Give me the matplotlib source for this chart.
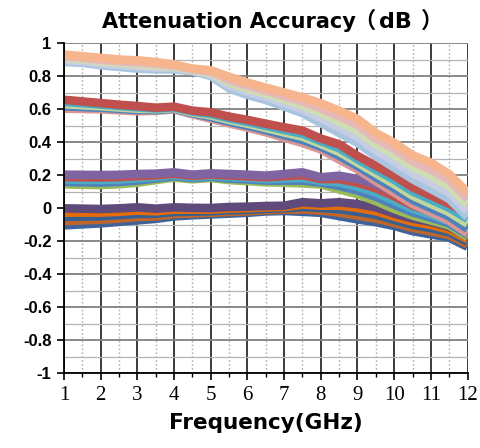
import matplotlib
matplotlib.use("Agg")
import matplotlib.pyplot as plt
from matplotlib.ticker import MultipleLocator

freq = [1.0, 1.5, 2.0, 2.5, 3.0, 3.5, 4.0, 4.5, 5.0, 5.5, 6.0, 6.5,
        7.0, 7.5, 8.0, 8.5, 9.0, 9.5, 10.0, 10.5, 11.0, 11.5, 12.0]

# ~0.9 dB group
top_1 = [0.930, 0.920, 0.910, 0.900, 0.895, 0.885, 0.870, 0.845, 0.835, 0.795, 0.760, 0.730,
         0.700, 0.670, 0.635, 0.590, 0.540, 0.455, 0.395, 0.320, 0.275, 0.205, 0.095]
top_2 = [0.919, 0.910, 0.899, 0.889, 0.883, 0.874, 0.863, 0.841, 0.826, 0.778, 0.741, 0.711,
         0.679, 0.646, 0.605, 0.556, 0.504, 0.420, 0.358, 0.284, 0.235, 0.168, 0.058]
top_3 = [0.908, 0.900, 0.888, 0.878, 0.870, 0.863, 0.855, 0.838, 0.818, 0.760, 0.723, 0.693,
         0.658, 0.623, 0.575, 0.523, 0.468, 0.385, 0.320, 0.248, 0.195, 0.130, 0.020]
top_4 = [0.896, 0.890, 0.876, 0.866, 0.858, 0.851, 0.848, 0.834, 0.809, 0.743, 0.704, 0.674,
         0.636, 0.599, 0.545, 0.489, 0.431, 0.350, 0.283, 0.211, 0.155, 0.093, -0.018]
top_5 = [0.885, 0.880, 0.865, 0.855, 0.845, 0.840, 0.840, 0.830, 0.800, 0.725, 0.685, 0.655,
         0.615, 0.575, 0.515, 0.455, 0.395, 0.315, 0.245, 0.175, 0.115, 0.055, -0.055]

# ~0.63 dB group
mid_1 = [0.656, 0.646, 0.636, 0.626, 0.618, 0.608, 0.614, 0.590, 0.580, 0.554, 0.534, 0.511,
         0.489, 0.469, 0.421, 0.386, 0.316, 0.256, 0.196, 0.126, 0.076, 0.026, -0.034]
mid_2 = [0.643, 0.635, 0.627, 0.618, 0.610, 0.603, 0.610, 0.585, 0.570, 0.544, 0.522, 0.498,
         0.473, 0.450, 0.405, 0.363, 0.296, 0.233, 0.171, 0.101, 0.051, 0.001, -0.065]
mid_3 = [0.629, 0.623, 0.617, 0.609, 0.602, 0.599, 0.606, 0.579, 0.561, 0.534, 0.511, 0.485,
         0.458, 0.432, 0.388, 0.340, 0.275, 0.210, 0.145, 0.075, 0.025, -0.025, -0.095]
mid_4 = [0.616, 0.612, 0.608, 0.601, 0.594, 0.594, 0.602, 0.574, 0.551, 0.523, 0.499, 0.472,
         0.442, 0.413, 0.372, 0.317, 0.255, 0.186, 0.120, 0.050, 0.000, -0.051, -0.126]
mid_5 = [0.602, 0.600, 0.598, 0.592, 0.586, 0.589, 0.598, 0.568, 0.541, 0.513, 0.487, 0.459,
         0.426, 0.394, 0.355, 0.294, 0.234, 0.163, 0.094, 0.024, -0.026, -0.076, -0.156]

# ~0.17 dB group
low_1 = [0.202, 0.201, 0.200, 0.201, 0.206, 0.208, 0.216, 0.202, 0.210, 0.206, 0.202, 0.196,
         0.206, 0.216, 0.186, 0.196, 0.176, 0.146, 0.096, 0.036, -0.004, -0.054, -0.124]
low_2 = [0.187, 0.186, 0.185, 0.187, 0.193, 0.198, 0.208, 0.195, 0.203, 0.197, 0.192, 0.186,
         0.193, 0.199, 0.175, 0.175, 0.153, 0.120, 0.071, 0.016, -0.022, -0.067, -0.137]
low_3 = [0.173, 0.171, 0.170, 0.173, 0.180, 0.189, 0.200, 0.188, 0.196, 0.188, 0.183, 0.176,
         0.180, 0.183, 0.165, 0.155, 0.130, 0.094, 0.045, -0.005, -0.040, -0.080, -0.150]
low_4 = [0.158, 0.156, 0.154, 0.158, 0.166, 0.179, 0.192, 0.181, 0.189, 0.178, 0.173, 0.166,
         0.166, 0.166, 0.154, 0.134, 0.106, 0.068, 0.020, -0.026, -0.058, -0.093, -0.163]
low_5 = [0.143, 0.141, 0.139, 0.144, 0.153, 0.169, 0.184, 0.174, 0.182, 0.169, 0.163, 0.156,
         0.153, 0.149, 0.143, 0.113, 0.083, 0.042, -0.006, -0.046, -0.076, -0.106, -0.176]

# ~-0.05 dB group
zero_1 = [-0.002, -0.004, -0.006, -0.002, 0.004, -0.004, 0.004, 0.001, 0.000, 0.006, 0.008, 0.012,
          0.014, 0.035, 0.028, 0.035, 0.024, 0.004, -0.034, -0.064, -0.084, -0.114, -0.174]
zero_2 = [-0.028, -0.028, -0.028, -0.023, -0.016, -0.020, -0.010, -0.010, -0.010, -0.004, -0.001, 0.004,
          0.006, 0.021, 0.014, 0.014, 0.001, -0.019, -0.053, -0.083, -0.103, -0.131, -0.189]
zero_3 = [-0.054, -0.052, -0.050, -0.043, -0.036, -0.035, -0.024, -0.022, -0.020, -0.014, -0.011, -0.005,
          -0.002, 0.006, 0.000, -0.007, -0.023, -0.041, -0.072, -0.102, -0.122, -0.147, -0.205]
zero_4 = [-0.079, -0.075, -0.071, -0.064, -0.055, -0.051, -0.037, -0.033, -0.029, -0.024, -0.020, -0.013,
          -0.010, -0.009, -0.015, -0.028, -0.046, -0.064, -0.090, -0.121, -0.141, -0.164, -0.220]
zero_5 = [-0.105, -0.099, -0.093, -0.084, -0.075, -0.066, -0.051, -0.044, -0.039, -0.034, -0.029, -0.021,
          -0.018, -0.023, -0.029, -0.049, -0.069, -0.086, -0.109, -0.140, -0.160, -0.180, -0.235]

zero_series = [zero_5, zero_4, zero_3, zero_2, zero_1]
zero_colors = ["#3F6399", "#C0662A", "#376092", "#E46C0A", "#604A7B"]
low_series = [low_5, low_4, low_3, low_2, low_1]
low_colors = ["#9BBB59", "#4F81BD", "#4BACC6", "#C0504D", "#8064A2"]
mid_series = [mid_5, mid_4, mid_3, mid_2, mid_1]
mid_colors = ["#D99694", "#4F81BD", "#C3D69B", "#4BACC6", "#C0504D"]
top_series = [top_5, top_4, top_3, top_2, top_1]
top_colors = ["#A9C4DF", "#C6CDE4", "#CFDDB5", "#E6B9B8", "#F7B58E"]

x_ticks = list(range(1, 13))
y_ticks = [-1, -0.8, -0.6, -0.4, -0.2, 0, 0.2, 0.4, 0.6, 0.8, 1]
y_labels = ["-1", "-0.8", "-0.6", "-0.4", "-0.2", "0", "0.2", "0.4", "0.6", "0.8", "1"]

fig = plt.figure(figsize=(4.81, 4.48), dpi=100)
ax = fig.add_axes([0.133, 0.1674, 0.839, 0.7366])

ax.set_xlim(1, 12)
ax.set_ylim(-1, 1)

# grid
ax.xaxis.set_minor_locator(MultipleLocator(0.5))
ax.yaxis.set_minor_locator(MultipleLocator(0.1))
ax.grid(which="major", axis="x", color="#1a1a1a", linewidth=1.2, linestyle="-")
ax.grid(which="minor", axis="x", color="#b0b0b0", linewidth=1.0, linestyle=(0, (1.2, 1.6)))
ax.grid(which="major", axis="y", color="#808080", linewidth=1.3, linestyle="-")
ax.grid(which="minor", axis="y", color="#b4b4b4", linewidth=0.9, linestyle="-")
ax.set_axisbelow(True)

for group, colors in [(zero_series, zero_colors), (low_series, low_colors),
                      (mid_series, mid_colors), (top_series, top_colors)]:
    for vals, c in zip(group, colors):
        ax.plot(freq, vals, color=c, linewidth=6.2, solid_joinstyle="round",
                solid_capstyle="butt", zorder=3)

for s in ["top", "right"]:
    ax.spines[s].set_visible(False)
ax.spines["left"].set_linewidth(1.3)
ax.spines["bottom"].set_linewidth(1.3)
ax.spines["left"].set_zorder(4)
ax.spines["bottom"].set_zorder(4)

ax.set_xticks(x_ticks)
ax.set_xticklabels([str(v) for v in x_ticks], fontfamily="Liberation Serif",
                   fontsize=15)
ax.set_yticks(y_ticks)
ax.set_yticklabels(y_labels, fontfamily="Liberation Sans", fontsize=12, fontweight="bold")
ax.tick_params(axis="both", which="major", direction="out", length=5, width=1.2, color="black")
ax.tick_params(axis="x", which="minor", direction="out", length=3, width=1.0, color="black")
ax.tick_params(axis="y", which="minor", length=0)
ax.tick_params(axis="x", which="major", pad=4)
ax.tick_params(axis="y", which="major", pad=4)

ax.set_xlabel("Frequency(GHz)", fontfamily="DejaVu Sans", fontsize=15.5,
              fontweight="bold", labelpad=6)

# title: latin text plus full-width brackets, spaced as in the source
ty = 1 - 28 / 448
fig.text(102 / 481, ty, "Attenuation Accuracy", fontfamily="DejaVu Sans",
         fontsize=15, fontweight="bold", ha="left", va="baseline")
fig.text(376 / 481, ty, "（", fontfamily=["Noto Sans CJK SC", "DejaVu Sans"],
         fontsize=16, fontweight="bold", ha="right", va="baseline")
fig.text(379 / 481, ty, "dB", fontfamily="DejaVu Sans",
         fontsize=16, fontweight="bold", ha="left", va="baseline")
fig.text(421 / 481, ty, "）", fontfamily=["Noto Sans CJK SC", "DejaVu Sans"],
         fontsize=16, fontweight="bold", ha="left", va="baseline")

fig.savefig("out.png", dpi=100)
